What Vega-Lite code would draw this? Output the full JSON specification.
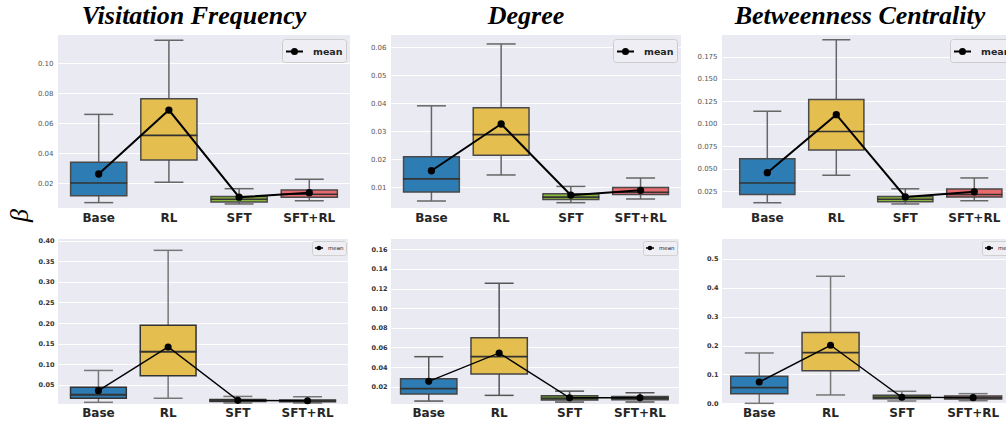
{
  "$schema": "https://vega.github.io/schema/vega-lite/v6.json",
  "background": "white",
  "padding": {"left": 6, "top": 3, "right": 0, "bottom": 17},
  "datasets": {
    "stats": [
      {"panel": "vf_a", "cat": "Base", "low": 0.0071, "q1": 0.0117, "median": 0.0202, "q3": 0.034, "high": 0.066, "mean": 0.0262},
      {"panel": "vf_a", "cat": "RL", "low": 0.0207, "q1": 0.0355, "median": 0.052, "q3": 0.0764, "high": 0.1155, "mean": 0.0689},
      {"panel": "vf_a", "cat": "SFT", "low": 0.0062, "q1": 0.0075, "median": 0.0093, "q3": 0.0111, "high": 0.0164, "mean": 0.0107},
      {"panel": "vf_a", "cat": "SFT+RL", "low": 0.0084, "q1": 0.0107, "median": 0.0127, "q3": 0.0155, "high": 0.0227, "mean": 0.0137},
      {"panel": "deg_a", "cat": "Base", "low": 0.0051, "q1": 0.0083, "median": 0.013, "q3": 0.0209, "high": 0.0391, "mean": 0.0159},
      {"panel": "deg_a", "cat": "RL", "low": 0.0144, "q1": 0.0214, "median": 0.0288, "q3": 0.0384, "high": 0.0612, "mean": 0.0326},
      {"panel": "deg_a", "cat": "SFT", "low": 0.0045, "q1": 0.0056, "median": 0.0065, "q3": 0.0077, "high": 0.0103, "mean": 0.0072},
      {"panel": "deg_a", "cat": "SFT+RL", "low": 0.0058, "q1": 0.0074, "median": 0.0082, "q3": 0.0099, "high": 0.0133, "mean": 0.0089},
      {"panel": "bc_a", "cat": "Base", "low": 0.0121, "q1": 0.0212, "median": 0.034, "q3": 0.0611, "high": 0.114, "mean": 0.0456},
      {"panel": "bc_a", "cat": "RL", "low": 0.0426, "q1": 0.0708, "median": 0.0915, "q3": 0.1272, "high": 0.1937, "mean": 0.1102},
      {"panel": "bc_a", "cat": "SFT", "low": 0.0107, "q1": 0.0133, "median": 0.016, "q3": 0.0189, "high": 0.0276, "mean": 0.0185},
      {"panel": "bc_a", "cat": "SFT+RL", "low": 0.0143, "q1": 0.0184, "median": 0.0212, "q3": 0.0273, "high": 0.0397, "mean": 0.0242},
      {"panel": "vf_b", "cat": "Base", "low": 0.0077, "q1": 0.0175, "median": 0.0263, "q3": 0.0444, "high": 0.085, "mean": 0.036},
      {"panel": "vf_b", "cat": "RL", "low": 0.0175, "q1": 0.072, "median": 0.1306, "q3": 0.1948, "high": 0.3765, "mean": 0.142},
      {"panel": "vf_b", "cat": "SFT", "low": 0.006, "q1": 0.0095, "median": 0.012, "q3": 0.0145, "high": 0.022, "mean": 0.0125},
      {"panel": "vf_b", "cat": "SFT+RL", "low": 0.006, "q1": 0.009, "median": 0.011, "q3": 0.0135, "high": 0.021, "mean": 0.0115},
      {"panel": "deg_b", "cat": "Base", "low": 0.0054, "q1": 0.0126, "median": 0.018, "q3": 0.0282, "high": 0.0506, "mean": 0.0255},
      {"panel": "deg_b", "cat": "RL", "low": 0.0112, "q1": 0.0329, "median": 0.0506, "q3": 0.07, "high": 0.1254, "mean": 0.0544},
      {"panel": "deg_b", "cat": "SFT", "low": 0.0044, "q1": 0.0064, "median": 0.0081, "q3": 0.0108, "high": 0.0155, "mean": 0.0088},
      {"panel": "deg_b", "cat": "SFT+RL", "low": 0.0044, "q1": 0.0068, "median": 0.0085, "q3": 0.0101, "high": 0.0138, "mean": 0.0088},
      {"panel": "bc_b", "cat": "Base", "low": 0.0, "q1": 0.0334, "median": 0.054, "q3": 0.0935, "high": 0.1743, "mean": 0.0738},
      {"panel": "bc_b", "cat": "RL", "low": 0.0289, "q1": 0.1131, "median": 0.1755, "q3": 0.2448, "high": 0.4399, "mean": 0.2009},
      {"panel": "bc_b", "cat": "SFT", "low": 0.008, "q1": 0.016, "median": 0.0208, "q3": 0.0277, "high": 0.0416, "mean": 0.0208},
      {"panel": "bc_b", "cat": "SFT+RL", "low": 0.009, "q1": 0.015, "median": 0.019, "q3": 0.0254, "high": 0.0334, "mean": 0.0196}
    ]
  },
  "data": {"name": "stats"},
  "bounds": "flush",
  "columns": 3,
  "align": "each",
  "spacing": {"row": 31, "column": 41},
  "resolve": {"scale": {"stroke": "independent", "fill": "independent"}, "legend": {"stroke": "independent"}},
  "concat": [
    {
      "width": 292, "height": 173,
      "title": {"text": "Visitation Frequency", "font": "Liberation Serif", "fontSize": 26, "fontStyle": "italic", "fontWeight": "bold", "color": "black", "dx": -10, "offset": 6},
      "transform": [{"filter": "datum.panel === 'vf_a'"}],
      "encoding": {"x": {"field": "cat", "type": "nominal", "sort": ["Base", "RL", "SFT", "SFT+RL"], "scale": {"paddingInner": 0, "paddingOuter": 0.08}, "axis": {"title": null}}},
      "layer": [
        {"mark": {"type": "rule", "stroke": "#666", "strokeWidth": 1.5},
         "encoding": {"y": {"field": "low", "type": "quantitative", "scale": {"domain": [0.0035, 0.119], "nice": false, "zero": false},
           "axis": {"values": [0.02, 0.04, 0.06, 0.08, 0.10], "tickCount": 20, "format": ".2f", "title": "β", "titleFont": "Liberation Serif", "titleFontStyle": "italic", "titleFontWeight": "normal", "titleFontSize": 26, "titleColor": "black", "titleAngle": 270, "titleX": -39, "titleY": 180, "titleAlign": "center", "titleBaseline": "middle"}},
           "y2": {"field": "high"}}},
        {"mark": {"type": "tick", "size": 29, "thickness": 1.5, "color": "#666", "opacity": 1},
         "encoding": {"y": {"field": "low", "type": "quantitative"}}},
        {"mark": {"type": "tick", "size": 29, "thickness": 1.5, "color": "#666", "opacity": 1},
         "encoding": {"y": {"field": "high", "type": "quantitative"}}},
        {"mark": {"type": "bar", "width": {"band": 0.8}, "stroke": "#4a4a4a", "strokeWidth": 1.5, "opacity": 1},
         "encoding": {"y": {"field": "q1", "type": "quantitative"}, "y2": {"field": "q3"},
           "fill": {"field": "cat", "type": "nominal", "scale": {"domain": ["Base", "RL", "SFT", "SFT+RL"], "range": ["#2D7DB4", "#E5BE50", "#8CB83A", "#E86A6E"]}, "legend": null}}},
        {"mark": {"type": "tick", "size": 57, "thickness": 1.6, "color": "#333", "opacity": 1},
         "encoding": {"y": {"field": "median", "type": "quantitative"}}},
        {"mark": {"type": "line", "strokeWidth": 2, "point": {"filled": true, "fill": "black", "size": 28}},
         "encoding": {"y": {"field": "mean", "type": "quantitative"},
           "stroke": {"datum": "mean", "scale": {"range": ["black"]}, "legend": {"orient": "top-right", "offset": 4, "title": null, "padding": 3, "fillColor": "#EEEEF4", "strokeColor": "#CCCCCC", "cornerRadius": 3, "labelFont": "DejaVu Sans", "labelFontWeight": "bold", "labelFontSize": 9.5, "labelColor": "#262626", "labelOffset": 9, "symbolType": "M-1,0H1M0.3,0A0.3,0.3,0,1,1,-0.3,0A0.3,0.3,0,1,1,0.3,0Z", "symbolSize": 289, "symbolStrokeWidth": 2, "symbolFillColor": "black", "symbolStrokeColor": "black"}}}}
      ]
    },
    {
      "width": 290, "height": 173,
      "title": {"text": "Degree", "font": "Liberation Serif", "fontSize": 26, "fontStyle": "italic", "fontWeight": "bold", "color": "black", "dx": -10, "offset": 6},
      "transform": [{"filter": "datum.panel === 'deg_a'"}],
      "encoding": {"x": {"field": "cat", "type": "nominal", "sort": ["Base", "RL", "SFT", "SFT+RL"], "scale": {"paddingInner": 0, "paddingOuter": 0.08}, "axis": {"title": null}}},
      "layer": [
        {"mark": {"type": "rule", "stroke": "#666", "strokeWidth": 1.5},
         "encoding": {"y": {"field": "low", "type": "quantitative", "scale": {"domain": [0.0026, 0.0644], "nice": false, "zero": false},
           "axis": {"values": [0.01, 0.02, 0.03, 0.04, 0.05, 0.06], "tickCount": 20, "format": ".2f", "title": null}},
           "y2": {"field": "high"}}},
        {"mark": {"type": "tick", "size": 29, "thickness": 1.5, "color": "#666", "opacity": 1},
         "encoding": {"y": {"field": "low", "type": "quantitative"}}},
        {"mark": {"type": "tick", "size": 29, "thickness": 1.5, "color": "#666", "opacity": 1},
         "encoding": {"y": {"field": "high", "type": "quantitative"}}},
        {"mark": {"type": "bar", "width": {"band": 0.8}, "stroke": "#4a4a4a", "strokeWidth": 1.5, "opacity": 1},
         "encoding": {"y": {"field": "q1", "type": "quantitative"}, "y2": {"field": "q3"},
           "fill": {"field": "cat", "type": "nominal", "scale": {"domain": ["Base", "RL", "SFT", "SFT+RL"], "range": ["#2D7DB4", "#E5BE50", "#8CB83A", "#E86A6E"]}, "legend": null}}},
        {"mark": {"type": "tick", "size": 57, "thickness": 1.6, "color": "#333", "opacity": 1},
         "encoding": {"y": {"field": "median", "type": "quantitative"}}},
        {"mark": {"type": "line", "strokeWidth": 2, "point": {"filled": true, "fill": "black", "size": 28}},
         "encoding": {"y": {"field": "mean", "type": "quantitative"},
           "stroke": {"datum": "mean", "scale": {"range": ["black"]}, "legend": {"orient": "top-right", "offset": 4, "title": null, "padding": 3, "fillColor": "#EEEEF4", "strokeColor": "#CCCCCC", "cornerRadius": 3, "labelFont": "DejaVu Sans", "labelFontWeight": "bold", "labelFontSize": 9.5, "labelColor": "#262626", "labelOffset": 9, "symbolType": "M-1,0H1M0.3,0A0.3,0.3,0,1,1,-0.3,0A0.3,0.3,0,1,1,0.3,0Z", "symbolSize": 289, "symbolStrokeWidth": 2, "symbolFillColor": "black", "symbolStrokeColor": "black"}}}}
      ]
    },
    {
      "width": 296, "height": 173,
      "title": {"text": "Betweenness Centrality", "font": "Liberation Serif", "fontSize": 26, "fontStyle": "italic", "fontWeight": "bold", "color": "black", "dx": -10, "offset": 6},
      "transform": [{"filter": "datum.panel === 'bc_a'"}],
      "encoding": {"x": {"field": "cat", "type": "nominal", "sort": ["Base", "RL", "SFT", "SFT+RL"], "scale": {"paddingInner": 0, "paddingOuter": 0.145, "align": 0.54}, "axis": {"title": null}}},
      "layer": [
        {"mark": {"type": "rule", "stroke": "#666", "strokeWidth": 1.5},
         "encoding": {"y": {"field": "low", "type": "quantitative", "scale": {"domain": [0.0062, 0.199], "nice": false, "zero": false},
           "axis": {"values": [0.025, 0.05, 0.075, 0.1, 0.125, 0.15, 0.175], "tickCount": 20, "format": ".3f", "title": null}},
           "y2": {"field": "high"}}},
        {"mark": {"type": "tick", "size": 28, "thickness": 1.5, "color": "#666", "opacity": 1},
         "encoding": {"y": {"field": "low", "type": "quantitative"}}},
        {"mark": {"type": "tick", "size": 28, "thickness": 1.5, "color": "#666", "opacity": 1},
         "encoding": {"y": {"field": "high", "type": "quantitative"}}},
        {"mark": {"type": "bar", "width": {"band": 0.8}, "stroke": "#4a4a4a", "strokeWidth": 1.5, "opacity": 1},
         "encoding": {"y": {"field": "q1", "type": "quantitative"}, "y2": {"field": "q3"},
           "fill": {"field": "cat", "type": "nominal", "scale": {"domain": ["Base", "RL", "SFT", "SFT+RL"], "range": ["#2D7DB4", "#E5BE50", "#8CB83A", "#E86A6E"]}, "legend": null}}},
        {"mark": {"type": "tick", "size": 56, "thickness": 1.6, "color": "#333", "opacity": 1},
         "encoding": {"y": {"field": "median", "type": "quantitative"}}},
        {"mark": {"type": "line", "strokeWidth": 2, "point": {"filled": true, "fill": "black", "size": 28}},
         "encoding": {"y": {"field": "mean", "type": "quantitative"},
           "stroke": {"datum": "mean", "scale": {"range": ["black"]}, "legend": {"orient": "top-right", "offset": 4, "title": null, "padding": 3, "fillColor": "#EEEEF4", "strokeColor": "#CCCCCC", "cornerRadius": 3, "labelFont": "DejaVu Sans", "labelFontWeight": "bold", "labelFontSize": 9.5, "labelColor": "#262626", "labelOffset": 9, "symbolType": "M-1,0H1M0.3,0A0.3,0.3,0,1,1,-0.3,0A0.3,0.3,0,1,1,0.3,0Z", "symbolSize": 289, "symbolStrokeWidth": 2, "symbolFillColor": "black", "symbolStrokeColor": "black"}}}}
      ]
    },
    {
      "width": 290, "height": 165,
      "transform": [{"filter": "datum.panel === 'vf_b'"}],
      "encoding": {"x": {"field": "cat", "type": "nominal", "sort": ["Base", "RL", "SFT", "SFT+RL"], "scale": {"paddingInner": 0, "paddingOuter": 0.08}, "axis": {"title": null, "labelPadding": 3}}},
      "layer": [
        {"mark": {"type": "rule", "stroke": "#777", "strokeWidth": 1.5},
         "encoding": {"y": {"field": "low", "type": "quantitative", "scale": {"domain": [0.0036, 0.404], "nice": false, "zero": false},
           "axis": {"values": [0.05, 0.1, 0.15, 0.2, 0.25, 0.3, 0.35, 0.4], "tickCount": 20, "format": ".2f", "title": null, "labelFontWeight": "bold", "labelFontSize": 6.5, "labelColor": "#333", "labelPadding": 4}},
           "y2": {"field": "high"}}},
        {"mark": {"type": "tick", "size": 29, "thickness": 1.5, "color": "#777", "opacity": 1},
         "encoding": {"y": {"field": "low", "type": "quantitative"}}},
        {"mark": {"type": "tick", "size": 29, "thickness": 1.5, "color": "#777", "opacity": 1},
         "encoding": {"y": {"field": "high", "type": "quantitative"}}},
        {"mark": {"type": "bar", "width": {"band": 0.8}, "stroke": "#333", "strokeWidth": 1.5, "opacity": 1},
         "encoding": {"y": {"field": "q1", "type": "quantitative"}, "y2": {"field": "q3"},
           "fill": {"field": "cat", "type": "nominal", "scale": {"domain": ["Base", "RL", "SFT", "SFT+RL"], "range": ["#2D7DB4", "#E5BE50", "#5E7A2A", "#7A3A3C"]}, "legend": null}}},
        {"mark": {"type": "tick", "size": 57, "thickness": 2, "color": "#333", "opacity": 1},
         "encoding": {"y": {"field": "median", "type": "quantitative"}}},
        {"mark": {"type": "line", "strokeWidth": 1.4, "point": {"filled": true, "fill": "black", "size": 26}},
         "encoding": {"y": {"field": "mean", "type": "quantitative"},
           "stroke": {"datum": "mean", "scale": {"range": ["black"]}, "legend": {"orient": "top-right", "offset": 2, "title": null, "padding": 2, "fillColor": "#EEEEF4", "strokeColor": "#D0D0D0", "cornerRadius": 2, "labelFont": "DejaVu Sans", "labelFontWeight": "normal", "labelFontSize": 5.5, "labelColor": "#262626", "labelOffset": 4, "symbolType": "M-1,0H1M0.4,0A0.4,0.4,0,1,1,-0.4,0A0.4,0.4,0,1,1,0.4,0Z", "symbolSize": 64, "symbolStrokeWidth": 1.5, "symbolFillColor": "black", "symbolStrokeColor": "black"}}}}
      ]
    },
    {
      "width": 288, "height": 165,
      "transform": [{"filter": "datum.panel === 'deg_b'"}],
      "encoding": {"x": {"field": "cat", "type": "nominal", "sort": ["Base", "RL", "SFT", "SFT+RL"], "scale": {"paddingInner": 0, "paddingOuter": 0.045, "align": 0.4}, "axis": {"title": null, "labelPadding": 3}}},
      "layer": [
        {"mark": {"type": "rule", "stroke": "#555", "strokeWidth": 1.5},
         "encoding": {"y": {"field": "low", "type": "quantitative", "scale": {"domain": [0.0024, 0.1705], "nice": false, "zero": false},
           "axis": {"values": [0.02, 0.04, 0.06, 0.08, 0.1, 0.12, 0.14, 0.16], "tickCount": 20, "format": ".2f", "title": null, "labelFontWeight": "bold", "labelFontSize": 6.5, "labelColor": "#333", "labelPadding": 4}},
           "y2": {"field": "high"}}},
        {"mark": {"type": "tick", "size": 29, "thickness": 1.5, "color": "#555", "opacity": 1},
         "encoding": {"y": {"field": "low", "type": "quantitative"}}},
        {"mark": {"type": "tick", "size": 29, "thickness": 1.5, "color": "#555", "opacity": 1},
         "encoding": {"y": {"field": "high", "type": "quantitative"}}},
        {"mark": {"type": "bar", "width": {"band": 0.8}, "stroke": "#444", "strokeWidth": 1.5, "opacity": 1},
         "encoding": {"y": {"field": "q1", "type": "quantitative"}, "y2": {"field": "q3"},
           "fill": {"field": "cat", "type": "nominal", "scale": {"domain": ["Base", "RL", "SFT", "SFT+RL"], "range": ["#2D7DB4", "#E5BE50", "#6E9A2E", "#9A4446"]}, "legend": null}}},
        {"mark": {"type": "tick", "size": 57, "thickness": 1.8, "color": "#333", "opacity": 1},
         "encoding": {"y": {"field": "median", "type": "quantitative"}}},
        {"mark": {"type": "line", "strokeWidth": 1.4, "point": {"filled": true, "fill": "black", "size": 26}},
         "encoding": {"y": {"field": "mean", "type": "quantitative"},
           "stroke": {"datum": "mean", "scale": {"range": ["black"]}, "legend": {"orient": "top-right", "offset": 2, "title": null, "padding": 2, "fillColor": "#EEEEF4", "strokeColor": "#D0D0D0", "cornerRadius": 2, "labelFont": "DejaVu Sans", "labelFontWeight": "normal", "labelFontSize": 5.5, "labelColor": "#262626", "labelOffset": 4, "symbolType": "M-1,0H1M0.4,0A0.4,0.4,0,1,1,-0.4,0A0.4,0.4,0,1,1,0.4,0Z", "symbolSize": 64, "symbolStrokeWidth": 1.5, "symbolFillColor": "black", "symbolStrokeColor": "black"}}}}
      ]
    },
    {
      "width": 296, "height": 165,
      "transform": [{"filter": "datum.panel === 'bc_b'"}],
      "encoding": {"x": {"field": "cat", "type": "nominal", "sort": ["Base", "RL", "SFT", "SFT+RL"], "scale": {"paddingInner": 0, "paddingOuter": 0.076, "align": 0.15}, "axis": {"title": null, "labelPadding": 3}}},
      "layer": [
        {"mark": {"type": "rule", "stroke": "#777", "strokeWidth": 1.5},
         "encoding": {"y": {"field": "low", "type": "quantitative", "scale": {"domain": [-0.0024, 0.569], "nice": false, "zero": false},
           "axis": {"values": [0, 0.1, 0.2, 0.3, 0.4, 0.5], "tickCount": 20, "format": ".1f", "title": null, "labelFontWeight": "bold", "labelFontSize": 6.5, "labelColor": "#333", "labelPadding": 4}},
           "y2": {"field": "high"}}},
        {"mark": {"type": "tick", "size": 29, "thickness": 1.5, "color": "#777", "opacity": 1},
         "encoding": {"y": {"field": "low", "type": "quantitative"}}},
        {"mark": {"type": "tick", "size": 29, "thickness": 1.5, "color": "#777", "opacity": 1},
         "encoding": {"y": {"field": "high", "type": "quantitative"}}},
        {"mark": {"type": "bar", "width": {"band": 0.8}, "stroke": "#444", "strokeWidth": 1.5, "opacity": 1},
         "encoding": {"y": {"field": "q1", "type": "quantitative"}, "y2": {"field": "q3"},
           "fill": {"field": "cat", "type": "nominal", "scale": {"domain": ["Base", "RL", "SFT", "SFT+RL"], "range": ["#2D7DB4", "#E5BE50", "#7AA536", "#B04E52"]}, "legend": null}}},
        {"mark": {"type": "tick", "size": 57, "thickness": 1.8, "color": "#333", "opacity": 1},
         "encoding": {"y": {"field": "median", "type": "quantitative"}}},
        {"mark": {"type": "line", "strokeWidth": 1.4, "point": {"filled": true, "fill": "black", "size": 26}},
         "encoding": {"y": {"field": "mean", "type": "quantitative"},
           "stroke": {"datum": "mean", "scale": {"range": ["black"]}, "legend": {"orient": "top-right", "offset": 2, "title": null, "padding": 2, "fillColor": "#EEEEF4", "strokeColor": "#D0D0D0", "cornerRadius": 2, "labelFont": "DejaVu Sans", "labelFontWeight": "normal", "labelFontSize": 5.5, "labelColor": "#262626", "labelOffset": 4, "symbolType": "M-1,0H1M0.4,0A0.4,0.4,0,1,1,-0.4,0A0.4,0.4,0,1,1,0.4,0Z", "symbolSize": 64, "symbolStrokeWidth": 1.5, "symbolFillColor": "black", "symbolStrokeColor": "black"}}}}
      ]
    }
  ],
  "config": {
    "view": {"fill": "#EAEAF2", "stroke": null},
    "axis": {"grid": true, "gridColor": "white", "gridWidth": 1.2, "gridOpacity": 1, "domain": false, "ticks": false},
    "axisX": {"grid": false, "labelAngle": 0, "labelFont": "DejaVu Sans", "labelFontWeight": "bold", "labelFontSize": 12, "labelColor": "#262626", "labelPadding": 4},
    "axisY": {"labelFont": "DejaVu Sans", "labelFontSize": 7, "labelColor": "#555", "labelPadding": 5}
  }
}
